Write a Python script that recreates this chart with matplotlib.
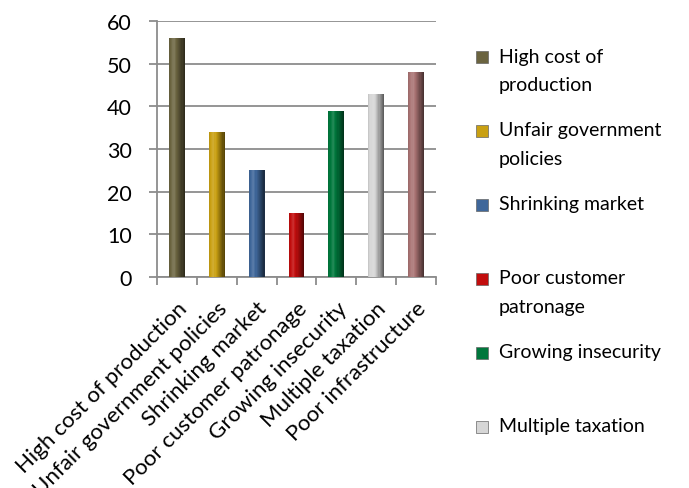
import matplotlib
matplotlib.use("Agg")
import matplotlib.pyplot as plt
from matplotlib.patches import Rectangle
import numpy as np

categories = ["High cost of production", "Unfair government policies", "Shrinking market",
              "Poor customer patronage", "Growing insecurity", "Multiple taxation",
              "Poor infrastructure"]
values = [56, 34, 25, 15, 39, 43, 48]
colors = ["#6b6440", "#c9a012", "#3f679a", "#c20d0d", "#00773c", "#d6d6d6", "#a87272"]
legend_labels = ["High cost of\nproduction", "Unfair government\npolicies", "Shrinking market",
                 "Poor customer\npatronage", "Growing insecurity", "Multiple taxation"]
yticks = [0, 10, 20, 30, 40, 50, 60]

plt.rcParams['font.family'] = ['Lato', 'DejaVu Sans']

W, H = 689, 489
fig = plt.figure(figsize=(W / 100, H / 100), dpi=100)
ax = fig.add_axes([157 / W, 1 - 278 / H, (436 - 157) / W, (278 - 22) / H])

x = np.arange(len(categories))
bw = 0.4
nstrip = 14
edges = np.linspace(-bw / 2, bw / 2, nstrip + 1)
centers = (edges[:-1] + edges[1:]) / 2
# brightness profile across the cylinder (left lighter, right dark)
t = (centers + bw / 2) / bw
prof = 1.15 - 0.25 * np.abs(t - 0.3) / 0.3
prof = np.where(t > 0.3, 1.15 - 0.75 * (t - 0.3) / 0.7, prof)
sw = bw / nstrip
for xi, v, c in zip(x, values, colors):
    rgb = np.array(matplotlib.colors.to_rgb(c))
    for cx, f in zip(centers, prof):
        if f > 1:
            col = rgb + (1 - rgb) * (f - 1)
        else:
            col = rgb * f
        ax.bar(xi + cx, v, width=sw * 1.05, color=tuple(np.clip(col, 0, 1)), linewidth=0, zorder=3)

ax.set_xlim(-0.5, len(categories) - 0.5)
ax.set_ylim(0, 60)
ax.set_yticks(yticks)
ax.set_yticklabels([str(t) for t in yticks], fontsize=15.5)
ax.yaxis.grid(True, color="#8c8c8c", linewidth=1.3, zorder=0)
ax.set_axisbelow(True)

ax.set_xticks(x)
ax.set_xticklabels(categories, rotation=45, ha="right", rotation_mode="anchor", fontsize=16)
ax.tick_params(axis="x", length=0, pad=15)
ax.set_xticks(np.arange(-0.5, len(categories), 1.0), minor=True)
ax.tick_params(axis="x", which="minor", length=6, color="#8c8c8c", width=1.3)
ax.tick_params(axis="y", length=6, color="#8c8c8c", width=1.3, pad=12)

for s in ["top", "right"]:
    ax.spines[s].set_visible(False)
for s in ["left", "bottom"]:
    ax.spines[s].set_color("#8c8c8c")
    ax.spines[s].set_linewidth(1.3)

# Legend (manual placement)
legend_y = [57, 131, 205, 279, 353, 427]  # pixel centers of first line
line_gap = 29
for lab, c, py in zip(legend_labels, colors, legend_y):
    sq = Rectangle((476 / W, 1 - (py + 7) / H), 12 / W, 12 / H,
                   transform=fig.transFigure, facecolor=c, edgecolor="#666666", linewidth=0.5)
    fig.patches.append(sq)
    for i, line in enumerate(lab.split("\n")):
        fig.text(499 / W, 1 - (py + i * line_gap) / H, line, fontsize=14, va="center", ha="left")

fig.savefig("out.png", dpi=100)
